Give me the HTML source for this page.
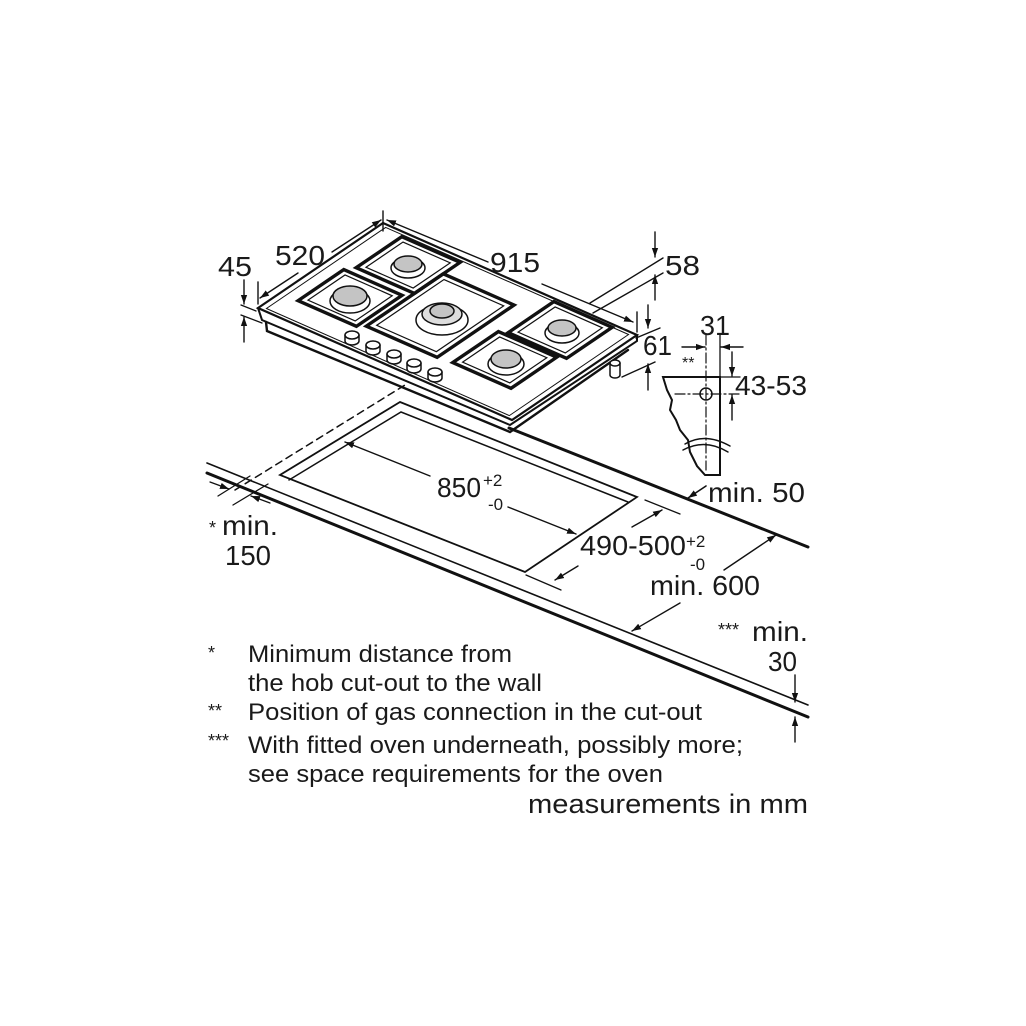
<!DOCTYPE html>
<html><head><meta charset="utf-8"><style>
html,body{margin:0;padding:0;background:#fff;}
svg{display:block;}
text{font-family:"Liberation Sans",Arial,sans-serif;fill:#1a1a1a;}
</style></head><body>
<svg width="1026" height="1026" viewBox="0 0 1026 1026" xmlns="http://www.w3.org/2000/svg">
<defs>
<marker id="a" viewBox="0 0 10 10" refX="10" refY="5" markerWidth="9" markerHeight="9" orient="auto-start-reverse" markerUnits="userSpaceOnUse"><path d="M0,1.5 L10,5 L0,8.5 Z" fill="#111"/></marker>
</defs>
<rect width="1026" height="1026" fill="#fff"/>
<g stroke="#111" fill="none" stroke-linecap="round">
<line x1="207" y1="463" x2="808" y2="705" stroke-width="1.6"/>
<line x1="207" y1="473" x2="808" y2="717" stroke-width="3"/>
<line x1="509" y1="428" x2="808" y2="547" stroke-width="3"/>
<polygon points="400,402 637,497 525,572 280,475" stroke-width="1.8"/>
<polyline points="289,480 401,412 628,502" stroke-width="1.5"/>
<line x1="235" y1="490" x2="405" y2="385" stroke-width="1.5" stroke-dasharray="7,5"/>
<line x1="218" y1="496" x2="250" y2="476" stroke-width="1.3"/>
<line x1="233" y1="505" x2="268" y2="484" stroke-width="1.3"/>
<line x1="210" y1="482" x2="229" y2="489" stroke-width="1.3" marker-end="url(#a)"/>
<line x1="270" y1="503" x2="251" y2="496" stroke-width="1.3" marker-end="url(#a)"/>
<line x1="430" y1="476" x2="345" y2="442" stroke-width="1.4" marker-end="url(#a)"/>
<line x1="508" y1="507" x2="576" y2="534" stroke-width="1.4" marker-end="url(#a)"/>
<line x1="645" y1="500" x2="680" y2="514" stroke-width="1.3"/>
<line x1="526" y1="575" x2="561" y2="590" stroke-width="1.3"/>
<line x1="632" y1="527" x2="662" y2="510" stroke-width="1.4" marker-end="url(#a)"/>
<line x1="578" y1="566" x2="555" y2="580" stroke-width="1.4" marker-end="url(#a)"/>
<line x1="706" y1="486" x2="688" y2="498" stroke-width="1.6" marker-end="url(#a)"/>
<line x1="724" y1="570" x2="776" y2="535" stroke-width="1.4" marker-end="url(#a)"/>
<line x1="680" y1="603" x2="632" y2="631" stroke-width="1.4" marker-end="url(#a)"/>
<line x1="795" y1="675" x2="795" y2="702" stroke-width="1.4" marker-end="url(#a)"/>
<line x1="795" y1="742" x2="795" y2="717" stroke-width="1.4" marker-end="url(#a)"/>

<polyline points="258,308 262,320 510,425 637,341 637,335" stroke-width="2" fill="#fff"/>
<polyline points="266,322 267,331 510,432 628,350" stroke-width="2.4"/>
<polygon points="383,223 637,335 512,420 258,308" stroke-width="2.2" fill="#fff"/>
<g transform="matrix(0.2776,0.1224,-0.2404,0.1635,383,223)" stroke-width="3.4">
<rect x="85" y="20" width="210" height="190" vector-effect="non-scaling-stroke"/>
<rect x="64" y="237" width="210" height="190" vector-effect="non-scaling-stroke"/>
<rect x="295" y="90" width="255" height="320" vector-effect="non-scaling-stroke"/>
<rect x="626" y="12" width="210" height="190" vector-effect="non-scaling-stroke"/>
<rect x="601" y="214" width="210" height="190" vector-effect="non-scaling-stroke"/>
<rect x="105" y="38" width="170" height="154" stroke-width="1.2" vector-effect="non-scaling-stroke"/>
<rect x="84" y="255" width="170" height="154" stroke-width="1.2" vector-effect="non-scaling-stroke"/>
<rect x="315" y="110" width="215" height="280" stroke-width="1.2" vector-effect="non-scaling-stroke"/>
<rect x="646" y="30" width="170" height="154" stroke-width="1.2" vector-effect="non-scaling-stroke"/>
<rect x="621" y="232" width="170" height="154" stroke-width="1.2" vector-effect="non-scaling-stroke"/>
<rect x="20" y="12" width="875" height="496" stroke-width="1" vector-effect="non-scaling-stroke"/>
</g>
<g stroke-width="1.5">
<ellipse cx="408" cy="268" rx="17" ry="10" fill="#fff"/>
<ellipse cx="408" cy="264" rx="14" ry="8" fill="#c4c4c4"/>
<ellipse cx="350" cy="301" rx="20" ry="12" fill="#fff"/>
<ellipse cx="350" cy="296" rx="17" ry="10" fill="#c4c4c4"/>
<ellipse cx="442" cy="320" rx="26" ry="15" fill="#fff"/>
<ellipse cx="442" cy="314" rx="20" ry="11" fill="#ddd"/>
<ellipse cx="442" cy="311" rx="12" ry="7" fill="#c4c4c4"/>
<ellipse cx="562" cy="333" rx="17" ry="10" fill="#fff"/>
<ellipse cx="562" cy="328" rx="14" ry="8" fill="#c4c4c4"/>
<ellipse cx="506" cy="364" rx="18" ry="11" fill="#fff"/>
<ellipse cx="506" cy="359" rx="15" ry="9" fill="#c4c4c4"/>
</g>
<g stroke-width="1.5" fill="#fff">
<path d="M345,335 v6 a7,4 0 0 0 14,0 v-6"/><ellipse cx="352" cy="335" rx="7" ry="4"/>
<path d="M366,345 v6 a7,4 0 0 0 14,0 v-6"/><ellipse cx="373" cy="345" rx="7" ry="4"/>
<path d="M387,354 v6 a7,4 0 0 0 14,0 v-6"/><ellipse cx="394" cy="354" rx="7" ry="4"/>
<path d="M407,363 v6 a7,4 0 0 0 14,0 v-6"/><ellipse cx="414" cy="363" rx="7" ry="4"/>
<path d="M428,372 v6 a7,4 0 0 0 14,0 v-6"/><ellipse cx="435" cy="372" rx="7" ry="4"/>
<path d="M610,363 v12 a5,3 0 0 0 10,0 v-12"/><ellipse cx="615" cy="363" rx="5" ry="3"/>
</g>
<line x1="383" y1="211" x2="383" y2="231" stroke-width="1.4"/>
<line x1="488" y1="262" x2="387" y2="220" stroke-width="1.4" marker-end="url(#a)"/>
<line x1="542" y1="284" x2="633" y2="322" stroke-width="1.4" marker-end="url(#a)"/>
<line x1="637" y1="312" x2="637" y2="332" stroke-width="1.4"/>
<line x1="332" y1="252" x2="381" y2="220" stroke-width="1.4" marker-end="url(#a)"/>
<line x1="298" y1="273" x2="260" y2="298" stroke-width="1.4" marker-end="url(#a)"/>
<line x1="258" y1="282" x2="258" y2="304" stroke-width="1.4"/>
<line x1="241" y1="305" x2="256" y2="311" stroke-width="1.3"/>
<line x1="241" y1="315" x2="262" y2="323" stroke-width="1.3"/>
<line x1="244" y1="280" x2="244" y2="304" stroke-width="1.4" marker-end="url(#a)"/>
<line x1="244" y1="342" x2="244" y2="317" stroke-width="1.4" marker-end="url(#a)"/>
<line x1="590" y1="303" x2="663" y2="258" stroke-width="1.4"/>
<line x1="593" y1="313" x2="663" y2="273" stroke-width="1.4"/>
<line x1="655" y1="232" x2="655" y2="257" stroke-width="1.4" marker-end="url(#a)"/>
<line x1="655" y1="300" x2="655" y2="275" stroke-width="1.4" marker-end="url(#a)"/>
<line x1="636" y1="338" x2="660" y2="328" stroke-width="1.4"/>
<line x1="622" y1="377" x2="655" y2="362" stroke-width="1.4"/>
<line x1="648" y1="305" x2="648" y2="328" stroke-width="1.4" marker-end="url(#a)"/>
<line x1="648" y1="390" x2="648" y2="364" stroke-width="1.4" marker-end="url(#a)"/>
<path d="M663,377 L720,377 L720,475 L705,475 L697,466 L690,452 L688,440 L680,430 L676,420 L670,410 L672,400 L667,390 Z" stroke-width="2" fill="#fff"/>
<path d="M683,450 Q705,438 728,452" stroke-width="1.5"/>
<path d="M685,444 Q705,432 730,446" stroke-width="1.5"/>
<circle cx="706" cy="394" r="6" stroke-width="1.5"/>
<line x1="706" y1="335" x2="706" y2="470" stroke-width="1.2" stroke-dasharray="10,3,2,3"/>
<line x1="720" y1="335" x2="720" y2="377" stroke-width="1.3"/>
<line x1="675" y1="394" x2="740" y2="394" stroke-width="1.2" stroke-dasharray="10,3,2,3"/>
<line x1="715" y1="377" x2="740" y2="377" stroke-width="1.3"/>
<line x1="682" y1="347" x2="705" y2="347" stroke-width="1.4" marker-end="url(#a)"/>
<line x1="743" y1="347" x2="721" y2="347" stroke-width="1.4" marker-end="url(#a)"/>
<line x1="732" y1="352" x2="732" y2="376" stroke-width="1.4" marker-end="url(#a)"/>
<line x1="732" y1="420" x2="732" y2="395" stroke-width="1.4" marker-end="url(#a)"/>
</g>
<g font-size="28">
<text x="218" y="276" textLength="34" lengthAdjust="spacingAndGlyphs">45</text>
<text x="275" y="265" textLength="50" lengthAdjust="spacingAndGlyphs">520</text>
<text x="490" y="272" textLength="50" lengthAdjust="spacingAndGlyphs">915</text>
<text x="665" y="275" textLength="35" lengthAdjust="spacingAndGlyphs">58</text>
<text x="700" y="335" textLength="30" lengthAdjust="spacingAndGlyphs">31</text>
<text x="643" y="355" textLength="29" lengthAdjust="spacingAndGlyphs">61</text>
<text x="682" y="368" font-size="16">**</text>
<text x="735" y="395" textLength="72" lengthAdjust="spacingAndGlyphs">43-53</text>
<text x="708" y="502" textLength="97" lengthAdjust="spacingAndGlyphs">min. 50</text>
<text x="437" y="497" textLength="44" lengthAdjust="spacingAndGlyphs">850</text>
<text x="483" y="486" font-size="17">+2</text>
<text x="488" y="510" font-size="17">-0</text>
<text x="209" y="534" font-size="18">*</text>
<text x="222" y="535" textLength="56" lengthAdjust="spacingAndGlyphs">min.</text>
<text x="225" y="565" textLength="46" lengthAdjust="spacingAndGlyphs">150</text>
<text x="580" y="555" textLength="106" lengthAdjust="spacingAndGlyphs">490-500</text>
<text x="686" y="547" font-size="17">+2</text>
<text x="690" y="570" font-size="17">-0</text>
<text x="650" y="595" textLength="110" lengthAdjust="spacingAndGlyphs">min. 600</text>
<text x="718" y="636" font-size="18">***</text>
<text x="752" y="641" textLength="56" lengthAdjust="spacingAndGlyphs">min.</text>
<text x="768" y="671" textLength="29" lengthAdjust="spacingAndGlyphs">30</text>
</g>
<g font-size="24">
<text x="208" y="659" font-size="18">*</text>
<text x="248" y="662" textLength="264" lengthAdjust="spacingAndGlyphs">Minimum distance from</text>
<text x="248" y="691" textLength="294" lengthAdjust="spacingAndGlyphs">the hob cut-out to the wall</text>
<text x="208" y="717" font-size="18">**</text>
<text x="248" y="720" textLength="454" lengthAdjust="spacingAndGlyphs">Position of gas connection in the cut-out</text>
<text x="208" y="747" font-size="18">***</text>
<text x="248" y="753" textLength="495" lengthAdjust="spacingAndGlyphs">With fitted oven underneath, possibly more;</text>
<text x="248" y="782" textLength="415" lengthAdjust="spacingAndGlyphs">see space requirements for the oven</text>
<text x="528" y="813" font-size="27" textLength="280" lengthAdjust="spacingAndGlyphs">measurements in mm</text>
</g>
</svg>
</body></html>
